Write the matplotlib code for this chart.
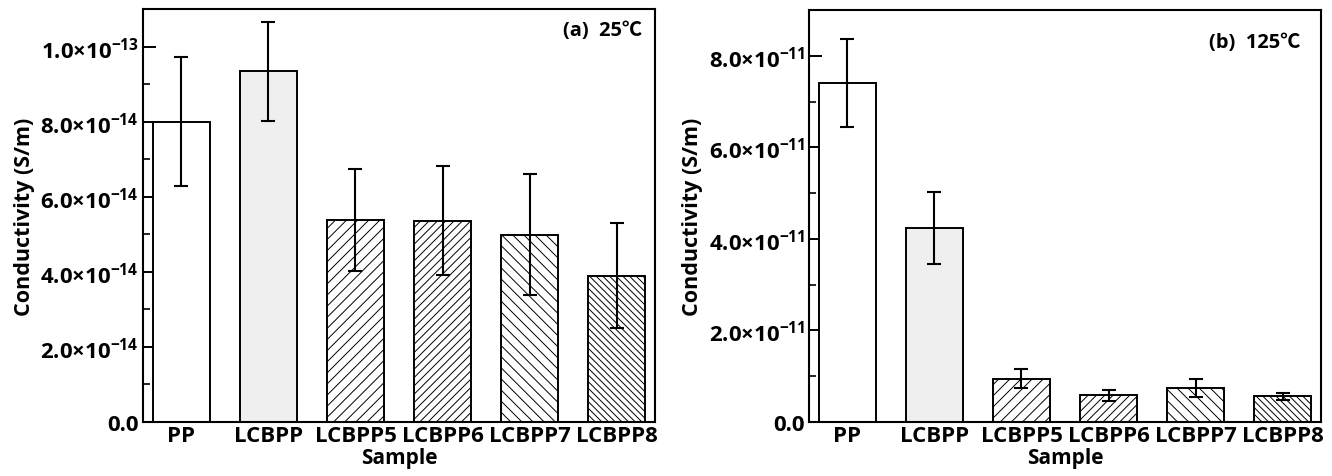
import matplotlib
matplotlib.use("Agg")
import matplotlib.pyplot as plt
import numpy as np
from matplotlib.ticker import FuncFormatter, FixedLocator

plt.rcParams['font.family'] = ['Open Sans', 'Noto Sans CJK SC', 'DejaVu Sans']
plt.rcParams['font.weight'] = 'bold'
plt.rcParams['mathtext.fontset'] = 'custom'
plt.rcParams['mathtext.bf'] = 'Open Sans:bold'
plt.rcParams['mathtext.rm'] = 'Open Sans:bold'
plt.rcParams['hatch.color'] = '#a0a0a0'
plt.rcParams['hatch.linewidth'] = 0.7

# === DATA ====================================================================
samples = ["PP", "LCBPP", "LCBPP5", "LCBPP6", "LCBPP7", "LCBPP8"]
cond_25 = [8.0e-14, 9.34e-14, 5.37e-14, 5.36e-14, 4.99e-14, 3.90e-14]
err_25 = [1.72e-14, 1.31e-14, 1.36e-14, 1.45e-14, 1.62e-14, 1.40e-14]
cond_125 = [7.41e-11, 4.24e-11, 0.95e-11, 0.58e-11, 0.74e-11, 0.56e-11]
err_125 = [0.96e-11, 0.79e-11, 0.20e-11, 0.12e-11, 0.19e-11, 0.07e-11]

fills = ["white", "#efefef", "white", "white", "white", "white"]
hatches = [None, None, "///", "////", "\\\\\\", "\\\\\\\\\\"]


def sci_fmt(exp):
    def f(v, pos):
        if abs(v) < 1e-30:
            return "0.0"
        m = v / 10.0 ** exp
        e = exp
        if m >= 9.999:
            m /= 10.0
            e += 1
        return r"$\mathbf{%.1f{\times}10^{%d}}$" % (m, e)
    return f


def panel(ax, vals, errs, ymax, step, exp, tag, tag_xy):
    x = range(len(samples))
    ax.bar(x, vals, width=0.65, color=fills, edgecolor="black", linewidth=1.4,
           zorder=2)
    for b, h in zip(ax.patches, hatches):
        if h:
            b.set_hatch(h)
    ax.errorbar(x, vals, yerr=errs, fmt="none", ecolor="black", elinewidth=1.5,
                capsize=5, capthick=1.5, zorder=3)
    ax.set_xlim(-0.44, 5.44)
    ax.set_ylim(0, ymax)
    n = int(ymax / step + 1e-6)
    ax.yaxis.set_major_locator(FixedLocator([i * step for i in range(n + 1)]))
    ax.yaxis.set_minor_locator(FixedLocator(
        [(i + 0.5) * step for i in range(n) if (i + 0.5) * step < ymax]))
    ax.yaxis.set_major_formatter(FuncFormatter(sci_fmt(exp)))
    ax.set_xticks(list(x))
    ax.set_xticklabels(samples, fontsize=16, fontweight="bold")
    ax.tick_params(axis="x", length=0, pad=2)
    ax.tick_params(axis="y", which="major", direction="in", length=9, width=1.4,
                   labelsize=16, pad=3)
    ax.tick_params(axis="y", which="minor", direction="in", length=5, width=1.2)
    for s in ax.spines.values():
        s.set_linewidth(1.5)
    ax.set_xlabel("Sample", fontsize=15, fontweight="bold", labelpad=1)
    ax.set_ylabel("Conductivity (S/m)", fontsize=15.5, fontweight="bold")
    ax.text(tag_xy[0], tag_xy[1], tag, transform=ax.transAxes, ha="right",
            va="center", fontsize=14.5, fontweight="bold")


fig = plt.figure(figsize=(13.32, 4.77), dpi=100)
ax1 = fig.add_axes([0.1074, 0.1132, 0.3843, 0.8658])
ax2 = fig.add_axes([0.6074, 0.1132, 0.3843, 0.8637])

panel(ax1, cond_25, err_25, 1.1e-13, 2.0e-14, -14, "(a)  25\u2103", (0.975, 0.95))
panel(ax2, cond_125, err_125, 9.0e-11, 2.0e-11, -11, "(b)  125\u2103", (0.96, 0.922))

ax1.yaxis.set_label_coords(-0.211, 0.5)
ax2.yaxis.set_label_coords(-0.207, 0.5)

fig.savefig("out.png", dpi=100)
